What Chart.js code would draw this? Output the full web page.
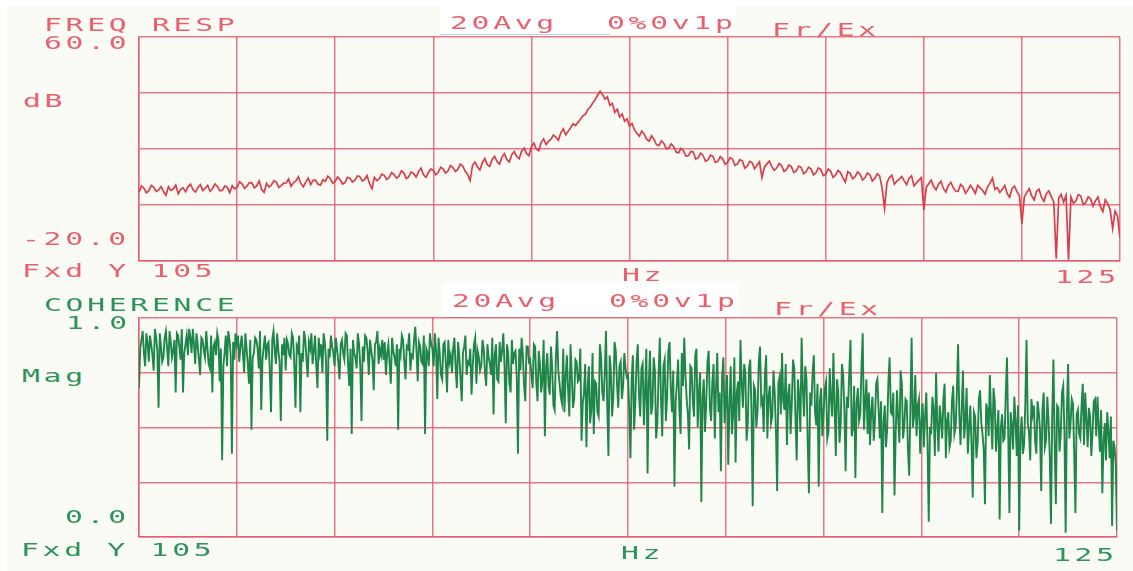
<!DOCTYPE html>
<html>
<head>
<meta charset="utf-8">
<script src="https://cdn.jsdelivr.net/npm/chart.js@4.4.1/dist/chart.umd.min.js"></script>
<style>
  html, body { margin:0; padding:0; }
  body { width:1133px; height:571px; background:#ffffff; position:relative; overflow:hidden; }
  #paper { position:absolute; left:7px; top:6px; width:1126px; height:565px; background:#fbfbf6; }
  .box { position:absolute; background:#ffffff; }
  .bl { position:absolute; height:1px; background:rgba(130,175,225,0.55); }
  canvas { position:absolute; }
  .t { position:absolute; font-family:'DejaVu Sans Mono', monospace; font-size:18px; line-height:18px;
       letter-spacing:2.25px; transform-origin:0 0; transform:scaleX(1.65); white-space:pre; }
  .r { color:rgb(232,96,110); }
  .g { color:rgb(44,148,88); }
</style>
</head>
<body>
<div id="paper"></div>
<div class="box" style="left:440px; top:0px; width:296px; height:35px;"></div>
<div class="bl" style="left:440px; top:34px; width:170px;"></div>
<div class="box" style="left:442px; top:283px; width:296px; height:34px;"></div>
<div class="bl" style="left:442px; top:317px; width:200px;"></div>
<canvas id="c1" width="1000" height="242" style="left:130px; top:28px;"></canvas>
<canvas id="c2" width="1000" height="237" style="left:130px; top:309px;"></canvas>
<div id="labels"></div>
<script>
// ---------------- DATA ----------------
const freqStart = 105, freqEnd = 125;
const xEndLabels = ['105', '125'];
const xUnit = 'Hz';
const topTitle = 'FREQ RESP', bottomTitle = 'COHERENCE';
const headerTexts = ['20Avg', '0%0v1p', 'Fr/Ex'];
const topYLabels = ['60.0', '-20.0'], topYUnit = 'dB';
const botYLabels = ['1.0', '0.0'], botYUnit = 'Mag';
const fixedLabel = 'Fxd Y';

// Frequency response magnitude (dB), 105.00 .. 125.00 Hz, 0.05 Hz step (one row per Hz)
const freqRespDb = [
  4.6, 6.8, 6.0, 4.3, 5.1, 7.0, 6.3, 4.9, 5.4, 6.6, 4.8, 3.5, 6.5, 5.2, 5.7, 7.1, 4.0, 5.6, 6.1, 4.7,
  6.6, 7.4, 5.5, 4.6, 6.2, 7.3, 5.2, 6.0, 7.0, 4.9, 5.9, 7.5, 6.5, 5.1, 5.3, 6.8, 6.3, 4.4, 6.9, 5.8,
  6.4, 8.3, 7.6, 5.9, 6.7, 8.0, 7.9, 6.1, 6.8, 8.6, 5.6, 4.5, 7.7, 6.4, 7.2, 8.7, 8.2, 6.3, 6.9, 7.8,
  7.9, 9.3, 6.7, 8.0, 8.6, 10.1, 7.7, 6.5, 8.2, 9.6, 7.3, 8.8, 8.9, 7.4, 7.1, 9.0, 8.5, 10.3, 9.4, 7.8,
  8.4, 10.0, 9.1, 7.5, 8.0, 9.9, 9.6, 8.2, 8.8, 10.4, 10.2, 8.6, 9.1, 10.5, 7.6, 5.8, 9.9, 8.7, 9.4, 11.0,
  10.6, 9.1, 9.8, 11.6, 10.9, 9.6, 10.3, 12.2, 11.5, 9.4, 10.1, 11.8, 11.2, 10.0, 12.0, 13.1, 10.8, 9.9, 11.6, 12.8,
  12.4, 10.8, 11.6, 13.5, 12.9, 11.4, 12.2, 14.1, 13.4, 12.0, 12.7, 14.6, 13.9, 12.1, 10.9, 8.7, 14.2, 15.3, 13.6, 12.5,
  15.2, 16.6, 14.4, 13.8, 16.3, 17.4, 15.5, 14.6, 17.1, 18.3, 16.2, 15.4, 18.0, 19.1, 17.3, 16.5, 19.2, 20.3, 18.4, 17.6,
  20.8, 22.1, 20.1, 19.4, 22.4, 23.6, 21.6, 22.8, 23.5, 25.0, 24.2, 23.1, 25.8, 27.2, 25.1, 26.3, 27.6, 29.0, 28.4, 29.5,
  30.6, 31.9, 32.4, 34.1, 35.0, 36.4, 37.6, 39.2, 40.6, 39.5, 37.8, 38.6, 35.6, 36.3, 33.1, 34.2, 31.4, 32.5, 29.9, 30.8,
  28.2, 29.1, 26.9, 25.6, 24.6, 26.4, 25.3, 23.5, 22.8, 24.7, 23.4, 21.6, 21.2, 22.9, 22.0, 20.1, 20.3, 21.8, 20.9, 18.9,
  18.6, 20.2, 19.4, 17.5, 17.6, 19.1, 18.9, 16.4, 16.8, 18.5, 17.7, 15.6, 16.1, 17.8, 17.4, 15.2, 15.6, 17.3, 16.5, 14.6,
  15.2, 16.9, 16.4, 14.1, 14.7, 16.2, 15.8, 13.2, 13.9, 15.6, 15.1, 13.0, 14.3, 15.4, 9.8, 13.5, 14.6, 15.7, 13.8, 12.4,
  13.2, 14.8, 14.1, 12.0, 12.6, 14.3, 13.7, 11.6, 12.2, 13.9, 13.4, 11.2, 11.8, 13.5, 12.9, 10.8, 11.5, 13.2, 12.7, 10.5,
  10.9, 12.8, 12.1, 9.9, 10.6, 12.4, 11.6, 9.8, 8.2, 11.9, 11.3, 9.4, 10.1, 11.8, 11.0, 8.9, 9.7, 11.4, 10.8, 8.6,
  9.5, 11.1, 10.4, 6.0, -1.2, 8.1, 9.8, 10.6, 7.4, 8.5, 9.2, 10.2, 8.6, 7.3, 9.6, 10.4, 6.8, 7.9, 8.9, 9.8,
  -1.8, 6.3, 7.6, 8.9, 6.6, 5.4, 7.4, 8.5, 5.9, 4.6, 6.9, 8.1, 6.2, 5.0, 4.9, 7.3, 6.5, 4.2, 5.4, 7.0,
  5.8, 4.2, 7.0, 6.1, 5.2, 3.9, 6.4, 7.8, 9.6, 5.6, 6.2, 4.5, 5.5, 7.0, 4.1, 2.8, 5.9, 6.7, 4.8, 3.3,
  -6.8, 2.9, 4.5, 5.8, 3.2, 1.8, 4.9, 5.6, 2.7, 1.3, 4.1, 5.0, 3.0, 1.1, -19.2, 2.4, 3.8, 1.0, 3.5, -19.5,
  2.9, 0.6, 1.4, 3.7, 3.3, 0.2, 0.8, 2.9, 2.2, -0.4, 1.5, 2.8, -0.6, -2.4, 1.9, 0.5, -1.8, -8.4, -2.2, -4.0,
  -11.8
];

// Coherence (0..1), 105.000 .. 125.000 Hz, 0.025 Hz step (one row per Hz)
const coherence = [
  .68,.86,.90,.94,.84,.78,.93,.89,.80,.92,.88,.83,.76,.95,.91,.85,.59,.93,.87,.80,.82,.91,.94,.86,.78,.94,.89,.82,.85,.90,.66,.93,.92,.87,.81,.95,.66,.84,.88,.92,
  .83,.95,.91,.84,.95,.88,.79,.93,.88,.81,.74,.91,.90,.85,.82,.94,.86,.79,.77,.92,.66,.87,.89,.83,.93,.90,.71,.86,.35,.78,.84,.92,.78,.94,.90,.83,.38,.89,.81,.93,
  .88,.92,.80,.87,.92,.84,.75,.93,.86,.79,.70,.90,.49,.82,.84,.91,.90,.86,.77,.94,.58,.81,.87,.92,.81,.88,.89,.76,.57,.90,.94,.85,.79,.93,.85,.80,.53,.88,.83,.91,
  .76,.90,.88,.83,.82,.93,.91,.79,.59,.87,.85,.92,.57,.84,.80,.94,.90,.81,.73,.89,.86,.93,.79,.85,.92,.78,.68,.91,.84,.88,.75,.93,.89,.80,.44,.86,.82,.92,.87,.84,
  .78,.91,.86,.80,.72,.88,.90,.84,.81,.93,.92,.79,.69,.86,.47,.90,.84,.82,.77,.93,.88,.78,.53,.87,.80,.92,.91,.85,.74,.90,.85,.81,.67,.88,.89,.94,.79,.86,.83,.90,
  .81,.89,.74,.84,.88,.79,.70,.91,.85,.82,.78,.88,.49,.86,.83,.92,.90,.80,.72,.87,.86,.93,.76,.83,.82,.90,.96,.85,.71,.89,.87,.80,.79,.92,.47,.86,.84,.78,.93,.88,
  .86,.78,.93,.85,.63,.91,.84,.74,.72,.88,.89,.79,.66,.90,.80,.83,.75,.86,.91,.77,.68,.89,.83,.72,.62,.84,.87,.92,.74,.80,.79,.86,.65,.78,.88,.91,.70,.85,.82,.76,
  .78,.90,.86,.75,.69,.88,.82,.79,.74,.91,.56,.83,.88,.72,.71,.89,.80,.85,.93,.78,.52,.88,.84,.70,.66,.90,.79,.84,.85,.73,.38,.86,.76,.91,.83,.69,.62,.87,.87,.80,
  .81,.74,.68,.88,.87,.70,.62,.85,.79,.66,.72,.90,.46,.78,.84,.69,.65,.87,.77,.60,.58,.82,.94,.76,.70,.64,.61,.86,.57,.73,.83,.67,.55,.88,.74,.59,.63,.81,.80,.71,
  .72,.86,.44,.61,.66,.79,.41,.68,.78,.52,.58,.84,.47,.71,.70,.57,.55,.88,.82,.66,.62,.75,.94,.60,.37,.83,.76,.55,.64,.89,.85,.70,.59,.78,.80,.63,.69,.84,.77,.73,
  .74,.58,.36,.72,.83,.49,.62,.80,.88,.65,.55,.77,.79,.51,.67,.86,.29,.70,.85,.56,.60,.82,.76,.45,.52,.74,.91,.63,.46,.78,.81,.53,.64,.85,.89,.68,.57,.76,.23,.62,
  .70,.81,.58,.47,.84,.69,.91,.74,.63,.56,.40,.78,.77,.62,.55,.83,.86,.50,.66,.75,.16,.64,.72,.48,.61,.80,.85,.59,.53,.71,.79,.45,.68,.84,.57,.66,.30,.73,.82,.52,
  .62,.74,.33,.60,.78,.47,.56,.82,.34,.66,.71,.53,.90,.70,.59,.79,.75,.44,.52,.77,.81,.58,.14,.69,.67,.50,.58,.80,.87,.61,.63,.48,.74,.83,.45,.64,.69,.52,.55,.76,
  .66,.49,.21,.70,.73,.56,.84,.62,.58,.79,.42,.65,.70,.47,.61,.81,.77,.54,.35,.72,.64,.48,.91,.68,.55,.78,.72,.43,.20,.66,.60,.75,.83,.57,.51,.70,.23,.62,.68,.46,
  .57,.68,.71,.45,.48,.77,.63,.55,.84,.60,.37,.72,.66,.43,.52,.79,.74,.58,.30,.64,.59,.75,.90,.46,.50,.69,.27,.61,.68,.53,.56,.78,.93,.49,.61,.72,.47,.66,.42,.58,
  .64,.44,.53,.70,.72,.58,.45,.62,.11,.52,.60,.41,.49,.71,.82,.57,.56,.66,.19,.48,.67,.54,.43,.76,.70,.45,.51,.63,.62,.40,.28,.59,.91,.50,.55,.74,.46,.60,.63,.38,
  .52,.61,.41,.55,.66,.43,.07,.49,.48,.64,.58,.37,.75,.52,.39,.60,.54,.45,.63,.70,.36,.53,.57,.41,.44,.62,.69,.47,.50,.66,.88,.56,.42,.59,.76,.45,.53,.68,.38,.50,
  .60,.42,.18,.57,.55,.36,.43,.63,.67,.52,.47,.40,.15,.61,.58,.46,.74,.55,.40,.68,.62,.39,.49,.58,.08,.50,.56,.44,.45,.65,.82,.48,.11,.57,.51,.40,.64,.53,.37,.60,
  .03,.46,.55,.38,.42,.61,.90,.52,.48,.35,.63,.56,.60,.44,.38,.62,.57,.49,.21,.58,.66,.41,.44,.64,.53,.37,.06,.55,.81,.43,.15,.60,.59,.39,.47,.66,.69,.48,.02,.57,
  .79,.45,.52,.63,.61,.38,.11,.56,.58,.47,.45,.60,.70,.42,.66,.54,.41,.59,.55,.37,.48,.62,.63,.46,.64,.51,.39,.58,.20,.43,.52,.35,.57,.48,.36,.55,.05,.44,.41,.33,
  .03
];

// frequency bins for each series (axis positions)
const freqTop = freqRespDb.map((_, i) => freqStart + i * (freqEnd - freqStart) / (freqRespDb.length - 1));
const freqBot = coherence.map((_, i) => freqStart + i * (freqEnd - freqStart) / (coherence.length - 1));

// ---------------- STYLE ----------------
const gridRed = 'rgba(229,86,102,0.8)';
const lineRed = 'rgb(216,62,76)';
const lineGreen = 'rgb(30,134,72)';

function makeChart(id, labels, data, color, yMin, yMax, yStep, pad, lw) {
  return new Chart(document.getElementById(id), {
    type: 'line',
    data: { labels: labels, datasets: [{ data: data, borderColor: color, borderWidth: lw,
      pointRadius: 0, tension: 0, fill: false }] },
    options: {
      responsive: false, animation: false, devicePixelRatio: 1,
      layout: { padding: pad },
      plugins: { legend: { display: false }, tooltip: { enabled: false } },
      scales: {
        x: { type: 'linear', min: freqStart, max: freqEnd,
             ticks: { display: false, stepSize: 2 },
             grid: { color: gridRed, lineWidth: 1.5, drawTicks: false },
             border: { color: gridRed, width: 1.5 } },
        y: { min: yMin, max: yMax,
             ticks: { display: false, stepSize: yStep },
             grid: { color: gridRed, lineWidth: 1.5, drawTicks: false },
             border: { color: gridRed, width: 1.5 } }
      }
    }
  });
}

makeChart('c1', freqTop, freqRespDb, lineRed, -20, 60, 20, { left: 9, right: 10, top: 9, bottom: 9 }, 1.7);
makeChart('c2', freqBot, coherence, lineGreen, 0, 1, 0.25, { left: 9, right: 13, top: 9, bottom: 9 }, 1.9);

// ---------------- TEXT ----------------
const L = document.getElementById('labels');
function txt(s, x, capTop, cls) {
  const d = document.createElement('div');
  d.className = 't ' + cls;
  d.textContent = s;
  d.style.left = x + 'px';
  d.style.top = (capTop - 2.3) + 'px';
  L.appendChild(d);
}
// top panel
txt(topTitle, 44, 18, 'r');
txt(headerTexts[0], 450, 16, 'r');
txt(headerTexts[1], 607, 16, 'r');
txt(headerTexts[2], 772, 23, 'r');
txt(topYLabels[0], 44, 36, 'r');
txt(topYUnit, 23, 94, 'r');
txt(topYLabels[1], 22, 232, 'r');
txt(fixedLabel + ' ' + xEndLabels[0], 22, 264, 'r');
txt(xUnit, 622, 268, 'r');
txt(xEndLabels[1], 1055, 270, 'r');
// bottom panel
txt(bottomTitle, 44, 298, 'g');
txt(headerTexts[0], 452, 294, 'r');
txt(headerTexts[1], 609, 294, 'r');
txt(headerTexts[2], 774, 302, 'r');
txt(botYLabels[0], 66, 316, 'g');
txt(botYUnit, 22, 369, 'g');
txt(botYLabels[1], 65, 510, 'g');
txt(fixedLabel + ' ' + xEndLabels[0], 21, 543, 'g');
txt(xUnit, 621, 546, 'g');
txt(xEndLabels[1], 1053, 548, 'g');
</script>
</body>
</html>
